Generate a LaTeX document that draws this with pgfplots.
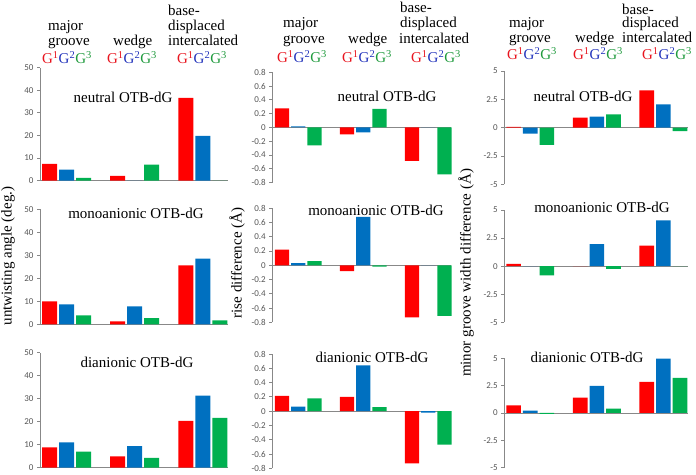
\documentclass[border=0pt]{standalone}
\usepackage{fontspec}
\setmainfont{Liberation Serif}
\newfontfamily\tickfont{Carlito}
\usepackage{pgfplots}
\pgfplotsset{compat=1.18}
\definecolor{cred}{HTML}{FF0000}
\definecolor{cblue}{HTML}{0070C0}
\definecolor{cgreen}{HTML}{00B050}
\definecolor{gred}{HTML}{E8141E}
\definecolor{gblue}{HTML}{2233BB}
\definecolor{ggreen}{HTML}{1E9A3C}
\definecolor{axgray}{HTML}{888888}
\definecolor{tkgray}{HTML}{555555}
\pgfplotsset{panel/.style={
  scale only axis, anchor=south west,
  axis y line=left, axis x line=middle,
  axis line style={-,draw=axgray,line width=0.9pt},
  every inner x axis line/.append style={-},
  every outer y axis line/.append style={-},
  hide obscured x ticks=false, hide obscured y ticks=false,
  xtick=\empty, tick align=outside, major tick length=3pt,
  ytick style={draw=axgray,line width=0.8pt},
  yticklabel style={font=\tickfont\fontsize{9}{10}\selectfont, text=tkgray},
  /pgf/number format/assume math mode=true,
  ybar, bar width=0.22, xmin=-0.39, xmax=2.37,
  clip=false,
}}
\pgfplotsset{
  R/.style={fill=cred, draw=none, bar shift=-0.25},
  B/.style={fill=cblue, draw=none, bar shift=0},
  G/.style={fill=cgreen, draw=none, bar shift=0.25},
}
\newcommand{\Gs}{{\color{gred}G\textsuperscript{1}}{\color{gblue}G\textsuperscript{2}}{\color{ggreen}G\textsuperscript{3}}}
\newcommand{\bigf}{\fontsize{15}{16}\selectfont}
\newcommand{\ttl}[3]{\node[anchor=base, font=\bigf, inner sep=0pt] at (#1,474-#2) {#3};}
\newcommand{\hl}[3]{\node[anchor=base west, font=\bigf, inner sep=0pt] at (#1,474-#2) {#3};}
\newcommand{\hg}[2]{\node[anchor=base, font=\bigf, inner sep=0pt] at (#1,474-#2) {\Gs};}
\begin{document}
\begin{tikzpicture}[x=1pt,y=1pt]
\useasboundingbox (0,0) rectangle (696,474);
% ---------- left column: untwisting angle ----------
\begin{axis}[panel, at={(40pt,293.3pt)}, width=188pt, height=113pt, ymin=0, ymax=50, ytick={0,10,20,30,40,50}]
\addplot[R] coordinates {(0,7.4) (1,2.1) (2,36.7)};
\addplot[B] coordinates {(0,4.9) (1,0) (2,19.8)};
\addplot[G] coordinates {(0,1.3) (1,7.1) (2,0)};
\end{axis}
\begin{axis}[panel, at={(40pt,149.7pt)}, width=188pt, height=115pt, ymin=0, ymax=50, ytick={0,10,20,30,40,50}]
\addplot[R] coordinates {(0,10.0) (1,1.3) (2,25.6)};
\addplot[B] coordinates {(0,8.7) (1,7.8) (2,28.5)};
\addplot[G] coordinates {(0,3.9) (1,2.7) (2,1.7)};
\end{axis}
\begin{axis}[panel, at={(40pt,6.3pt)}, width=188pt, height=115pt, ymin=0, ymax=50, ytick={0,10,20,30,40,50}]
\addplot[R] coordinates {(0,8.8) (1,4.9) (2,20.4)};
\addplot[B] coordinates {(0,11.0) (1,9.4) (2,31.3)};
\addplot[G] coordinates {(0,7.0) (1,4.3) (2,21.7)};
\end{axis}
% ---------- middle column: rise difference ----------
\begin{axis}[panel, at={(272.3pt,291.3pt)}, width=178.7pt, height=110.4pt, ymin=-0.8, ymax=0.8, ytick={-0.8,-0.6,-0.4,-0.2,0,0.2,0.4,0.6,0.8}, xmin=-0.40, xmax=2.35]
\addplot[R] coordinates {(0,0.277) (1,-0.10) (2,-0.485)};
\addplot[B] coordinates {(0,0.015) (1,-0.07) (2,0)};
\addplot[G] coordinates {(0,-0.26) (1,0.27) (2,-0.68)};
\end{axis}
\begin{axis}[panel, at={(272.3pt,151.7pt)}, width=178.7pt, height=114pt, ymin=-0.8, ymax=0.8, ytick={-0.8,-0.6,-0.4,-0.2,0,0.2,0.4,0.6,0.8}, xmin=-0.40, xmax=2.35]
\addplot[R] coordinates {(0,0.22) (1,-0.08) (2,-0.73)};
\addplot[B] coordinates {(0,0.03) (1,0.68) (2,0)};
\addplot[G] coordinates {(0,0.06) (1,-0.02) (2,-0.71)};
\end{axis}
\begin{axis}[panel, at={(272.3pt,5.7pt)}, width=178.7pt, height=114.3pt, ymin=-0.8, ymax=0.8, ytick={-0.8,-0.6,-0.4,-0.2,0,0.2,0.4,0.6,0.8}, xmin=-0.40, xmax=2.35]
\addplot[R] coordinates {(0,0.215) (1,0.20) (2,-0.73)};
\addplot[B] coordinates {(0,0.065) (1,0.64) (2,-0.02)};
\addplot[G] coordinates {(0,0.18) (1,0.056) (2,-0.47)};
\end{axis}
% ---------- right column: minor groove width difference ----------
\begin{axis}[panel, at={(504.3pt,289.7pt)}, width=183.7pt, height=113.3pt, ymin=-5, ymax=5, ytick={-5,-2.5,0,2.5,5}]
\addplot[R] coordinates {(0,0.06) (1,0.88) (2,3.3)};
\addplot[B] coordinates {(0,-0.53) (1,0.97) (2,2.06)};
\addplot[G] coordinates {(0,-1.53) (1,1.18) (2,-0.3)};
\end{axis}
\begin{axis}[panel, at={(504.3pt,151.7pt)}, width=183.7pt, height=112.3pt, ymin=-5, ymax=5, ytick={-5,-2.5,0,2.5,5}]
\addplot[R] coordinates {(0,0.2) (1,0) (2,1.82)};
\addplot[B] coordinates {(0,0) (1,1.96) (2,4.08)};
\addplot[G] coordinates {(0,-0.83) (1,-0.24) (2,0)};
\end{axis}
\begin{axis}[panel, at={(504.3pt,6.3pt)}, width=183.7pt, height=109.4pt, ymin=-5, ymax=5, ytick={-5,-2.5,0,2.5,5}]
\addplot[R] coordinates {(0,0.69) (1,1.41) (2,2.84)};
\addplot[B] coordinates {(0,0.22) (1,2.47) (2,4.97)};
\addplot[G] coordinates {(0,-0.09) (1,0.41) (2,3.22)};
\end{axis}
% ---------- panel titles ----------
\ttl{123}{103}{neutral OTB-dG}
\ttl{387}{102}{neutral OTB-dG}
\ttl{583}{102}{neutral OTB-dG}
\ttl{136}{219}{monoanionic OTB-dG}
\ttl{376}{216}{monoanionic OTB-dG}
\ttl{602}{213}{monoanionic OTB-dG}
\ttl{137}{368}{dianionic OTB-dG}
\ttl{372}{363}{dianionic OTB-dG}
\ttl{587}{363}{dianionic OTB-dG}
% ---------- y labels ----------
\node[rotate=90, font=\bigf, inner sep=0pt] at (8,474-256) {untwisting angle (deg.)};
\node[rotate=90, font=\bigf, inner sep=0pt] at (237,474-263) {rise difference (Å)};
\node[rotate=90, font=\bigf, inner sep=0pt] at (466,474-273) {minor groove width difference (Å)};
% ---------- headers ----------
\hl{48}{31}{major}\hl{48}{45.5}{groove}\hl{113}{45.5}{wedge}
\hl{168}{16}{base-}\hl{168}{31}{displaced}\hl{168}{45.5}{intercalated}
\hg{67}{64}\hg{132}{64}\hg{202}{64}
\hl{283}{28}{major}\hl{283}{44}{groove}\hl{348}{44}{wedge}
\hl{400}{13}{base-}\hl{400}{28}{displaced}\hl{399}{44}{intercalated}
\hg{302}{63}\hg{367}{63}\hg{436}{63}
\hl{509}{28}{major}\hl{509}{43}{groove}\hl{575}{43}{wedge}
\hl{622}{15}{base-}\hl{622}{28}{displaced}\hl{622}{43}{intercalated}
\hg{532}{60}\hg{598}{60}\hg{667}{60}
\end{tikzpicture}
\end{document}
